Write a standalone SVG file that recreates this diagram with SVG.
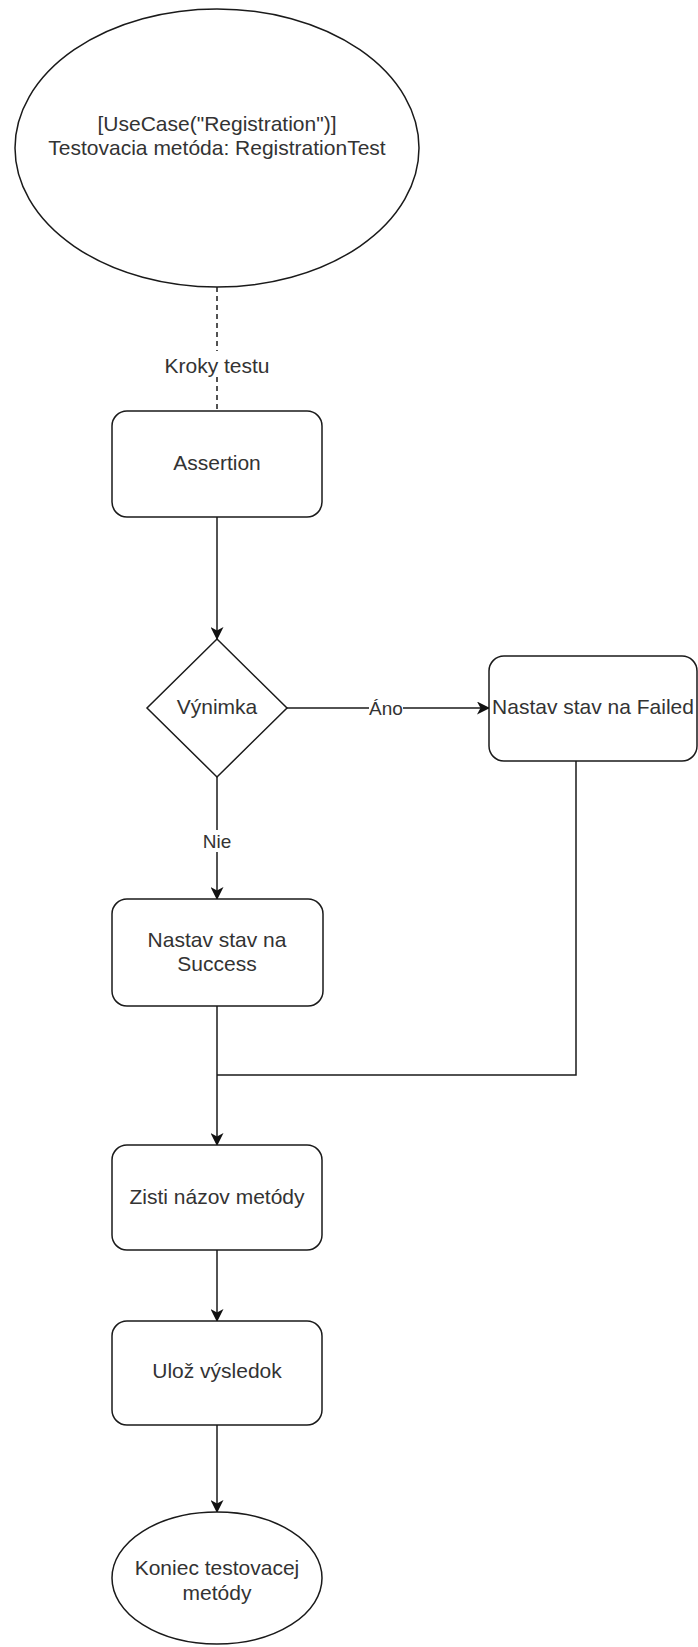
<svg xmlns="http://www.w3.org/2000/svg" width="698" height="1647" viewBox="0 0 698 1647">
  <defs>
    <marker id="arrow" viewBox="0 0 13 13" refX="12" refY="6.5" markerWidth="13" markerHeight="13" markerUnits="userSpaceOnUse" orient="auto">
      <path d="M0,0 L13,6.5 L0,13 L3.5,6.5 Z" fill="#111"/>
    </marker>
  </defs>
  <style>
    .shape { fill: #ffffff; stroke: #1a1a1a; stroke-width: 1.5; }
    .edge { fill: none; stroke: #1a1a1a; stroke-width: 1.5; }
    .dashed { stroke-dasharray: 5 4; }
    .label { font-family: "Liberation Sans", Arial, sans-serif; font-size: 21px; fill: #333333; text-anchor: middle; }
    .edge-label { font-family: "Liberation Sans", Arial, sans-serif; font-size: 19px; fill: #333333; text-anchor: middle; }
    .bg { fill: #ffffff; }
  </style>
  <rect width="698" height="1647" fill="#ffffff"/>

  <!-- connectors -->
  <g id="connectors">
    <line class="edge dashed" x1="217" y1="287" x2="217" y2="411"/>
    <line class="edge" x1="217" y1="517" x2="217" y2="639" marker-end="url(#arrow)"/>
    <line class="edge" x1="287" y1="708" x2="489" y2="708" marker-end="url(#arrow)"/>
    <line class="edge" x1="217" y1="777" x2="217" y2="899" marker-end="url(#arrow)"/>
    <line class="edge" x1="217" y1="1006" x2="217" y2="1145" marker-end="url(#arrow)"/>
    <polyline class="edge" points="576,761 576,1075 217,1075"/>
    <line class="edge" x1="217" y1="1250" x2="217" y2="1321" marker-end="url(#arrow)"/>
    <line class="edge" x1="217" y1="1425" x2="217" y2="1512" marker-end="url(#arrow)"/>
    <!-- edge labels -->
    <rect class="bg" x="158" y="351" width="118" height="26"/>
    <text class="label" x="217" y="373">Kroky testu</text>
    <rect class="bg" x="369" y="698" width="34" height="20"/>
    <text class="edge-label" x="386" y="715">Áno</text>
    <rect class="bg" x="203" y="830" width="28" height="22"/>
    <text class="edge-label" x="217" y="848">Nie</text>
  </g>

  <g id="start">
    <ellipse class="shape" cx="217" cy="148" rx="202" ry="139"/>
    <text class="label" x="217" y="131">[UseCase("Registration")]</text>
    <text class="label" x="217" y="155">Testovacia metóda: RegistrationTest</text>
  </g>

  <g id="assertion">
    <rect class="shape" x="112" y="411" width="210" height="106" rx="15" ry="15"/>
    <text class="label" x="217" y="470">Assertion</text>
  </g>

  <g id="exception">
    <polygon class="shape" points="217,639 287,708 217,777 147,708"/>
    <text class="label" x="217" y="714">Výnimka</text>
  </g>

  <g id="failed">
    <rect class="shape" x="489" y="656" width="208" height="105" rx="15" ry="15"/>
    <text class="label" x="593" y="714">Nastav stav na Failed</text>
  </g>

  <g id="success">
    <rect class="shape" x="112" y="899" width="211" height="107" rx="15" ry="15"/>
    <text class="label" x="217" y="947">Nastav stav na</text>
    <text class="label" x="217" y="971">Success</text>
  </g>

  <g id="method-name">
    <rect class="shape" x="112" y="1145" width="210" height="105" rx="15" ry="15"/>
    <text class="label" x="217" y="1204">Zisti názov metódy</text>
  </g>

  <g id="save-result">
    <rect class="shape" x="112" y="1321" width="210" height="104" rx="15" ry="15"/>
    <text class="label" x="217" y="1378">Ulož výsledok</text>
  </g>

  <g id="end">
    <ellipse class="shape" cx="217" cy="1578" rx="105" ry="66"/>
    <text class="label" x="217" y="1575">Koniec testovacej</text>
    <text class="label" x="217" y="1600">metódy</text>
  </g>
</svg>
